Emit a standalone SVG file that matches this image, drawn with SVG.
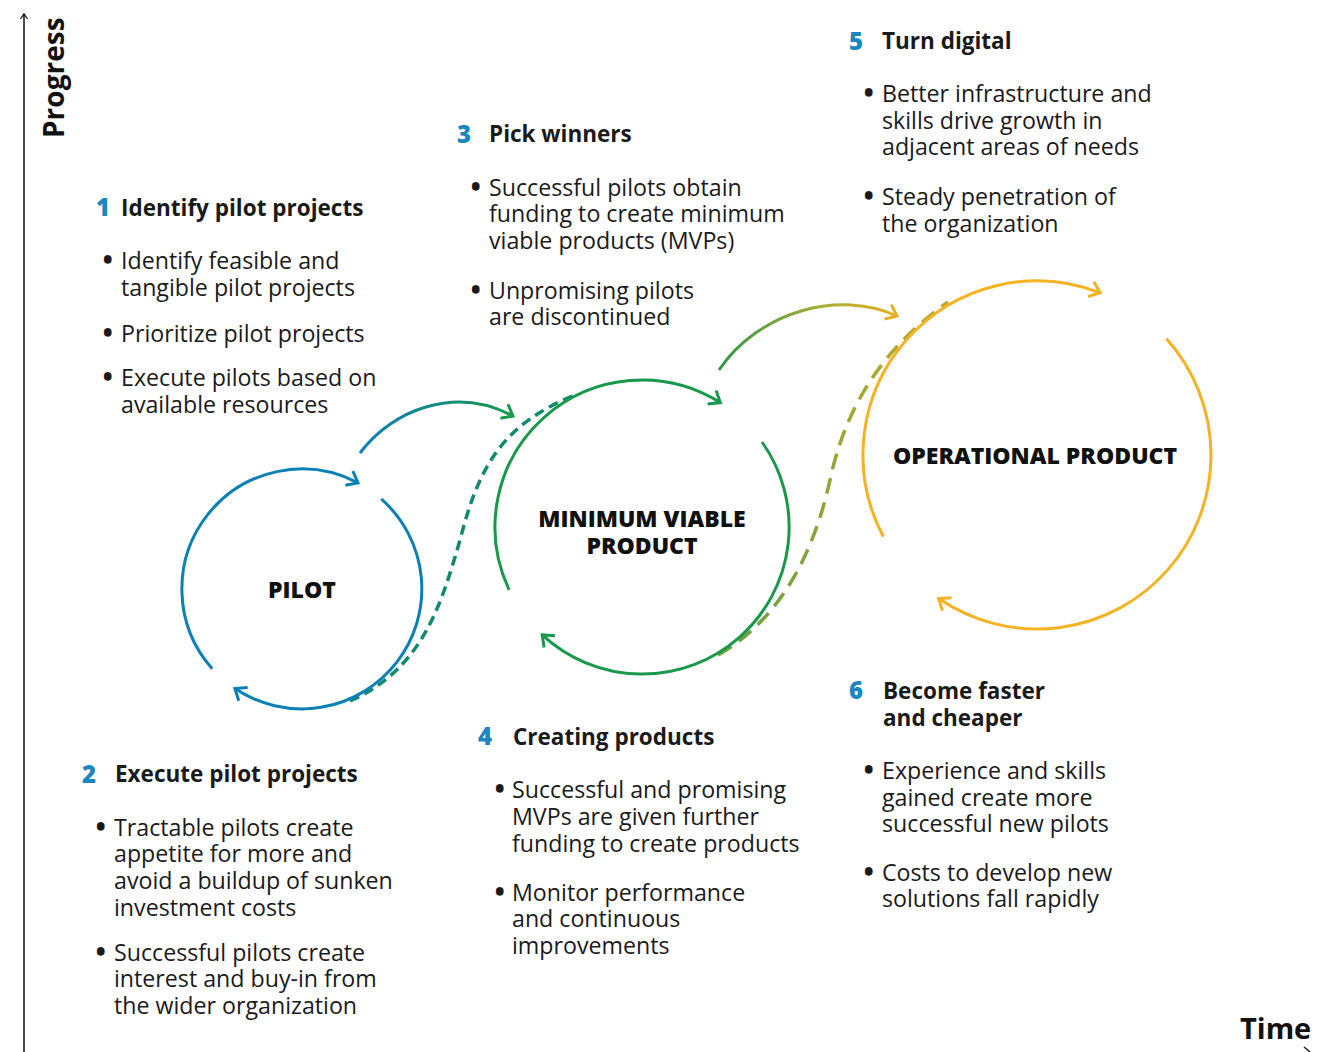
<svg xmlns="http://www.w3.org/2000/svg" width="1335" height="1052" viewBox="0 0 1335 1052">
  <style>
    .txt { font-family: "Open Sans", "Noto Sans", "Liberation Sans", sans-serif; font-size: 23.2px; font-weight: 500; fill: #1a1a1a; }
    .head { font-size: 22.5px; font-weight: 700; }
    .dot { font-family: "Open Sans", "Noto Sans", "Liberation Sans", sans-serif; font-size: 24px; font-weight: 800; fill: #1a1a1a; }
    .num { font-family: "Open Sans", "Noto Sans", "Liberation Sans", sans-serif; font-size: 24px; font-weight: 800; fill: #1b87c0; }
    .label { font-family: "Open Sans", "Noto Sans", "Liberation Sans", sans-serif; font-size: 23px; font-weight: 800; fill: #111; text-anchor: middle; }
    .axis { font-family: "Open Sans", "Noto Sans", "Liberation Sans", sans-serif; font-weight: 700; fill: #111; }
    .ring { fill: none; stroke-width: 3; stroke-linecap: butt; }
    .blue { stroke: #0b80b6; }
    .green { stroke: #18994a; }
    .gold { stroke: #f6b222; }
  </style>
  <defs>
    <marker id="ah-blue" markerUnits="userSpaceOnUse" markerWidth="30" markerHeight="30" viewBox="-15 -15 30 30" refX="0" refY="0" orient="auto" overflow="visible">
      <path d="M-10,-8 L0,0 L-10,8" fill="none" stroke="#0b80b6" stroke-width="3"/>
    </marker>
    <marker id="ah-green" markerUnits="userSpaceOnUse" markerWidth="30" markerHeight="30" viewBox="-15 -15 30 30" refX="0" refY="0" orient="auto" overflow="visible">
      <path d="M-10,-8 L0,0 L-10,8" fill="none" stroke="#18994a" stroke-width="3"/>
    </marker>
    <marker id="ah-gold" markerUnits="userSpaceOnUse" markerWidth="30" markerHeight="30" viewBox="-15 -15 30 30" refX="0" refY="0" orient="auto" overflow="visible">
      <path d="M-10,-8 L0,0 L-10,8" fill="none" stroke="#f6b222" stroke-width="3"/>
    </marker>
    <marker id="ah-olive" markerUnits="userSpaceOnUse" markerWidth="30" markerHeight="30" viewBox="-15 -15 30 30" refX="0" refY="0" orient="auto" overflow="visible">
      <path d="M-10,-8 L0,0 L-10,8" fill="none" stroke="#e3b022" stroke-width="3"/>
    </marker>
    <marker id="ah-axis" markerUnits="userSpaceOnUse" markerWidth="20" markerHeight="20" viewBox="-10 -10 20 20" refX="0" refY="0" orient="auto" overflow="visible">
      <path d="M-5,-3.5 L0,0 L-5,3.5" fill="none" stroke="#111" stroke-width="1.3"/>
    </marker>
    <linearGradient id="g-pilot-mvp" gradientUnits="userSpaceOnUse" x1="360" y1="0" x2="513" y2="0">
      <stop offset="0" stop-color="#0b80b6"/>
      <stop offset="1" stop-color="#18994a"/>
    </linearGradient>
    <linearGradient id="g-mvp-op" gradientUnits="userSpaceOnUse" x1="719" y1="0" x2="897" y2="0">
      <stop offset="0" stop-color="#2c9a46"/>
      <stop offset="0.5" stop-color="#9aac35"/>
      <stop offset="1" stop-color="#e8b022"/>
    </linearGradient>
    <linearGradient id="g-olive" gradientUnits="userSpaceOnUse" x1="0" y1="655" x2="0" y2="300">
      <stop offset="0" stop-color="#6ea13c"/>
      <stop offset="1" stop-color="#b9a92e"/>
    </linearGradient>
  </defs>

  <!-- Axes -->
  <g id="axes">
    <line x1="24" y1="1052" x2="24" y2="14" stroke="#111" stroke-width="1.5" marker-end="url(#ah-axis)"/>
    <text class="axis" font-size="28" transform="translate(64,138) rotate(-90)">Progress</text>
    <text class="axis" font-size="29" x="1240" y="1039">Time</text>
    <path d="M1304,1047 L1310,1052" fill="none" stroke="#111" stroke-width="1.3"/>
  </g>

  <!-- Connectors between stages -->
  <g id="connectors">
    <path d="M350,701 C420,670 440,610 460,540 C478,470 500,425 575,395" fill="none" stroke="#0f8a6c" stroke-width="3.5" stroke-dasharray="10 6"/>
    <path d="M718,655 C770,625 810,570 830,480 C845,410 880,350 948,302" fill="none" stroke="url(#g-olive)" stroke-width="3.5" stroke-dasharray="16 9"/>
    <path d="M360,453 C392,410 455,385 513,416" fill="none" stroke="url(#g-pilot-mvp)" stroke-width="3" marker-end="url(#ah-green)"/>
    <path d="M719,370 C760,310 840,290 897,316" fill="none" stroke="url(#g-mvp-op)" stroke-width="3" marker-end="url(#ah-olive)"/>
  </g>

  <!-- Stage cycles -->
  <g id="pilot">
    <path class="ring blue" d="M212.2,668.7 A120,120 0 0 1 358,482.9" marker-end="url(#ah-blue)"/>
    <path class="ring blue" d="M381.2,498.9 A120,120 0 0 1 234.9,688.5" marker-end="url(#ah-blue)"/>
    <text class="label" x="302" y="598">PILOT</text>
  </g>

  <g id="mvp">
    <path class="ring green" d="M509.1,589.8 A147,147 0 0 1 720.3,402.6" marker-end="url(#ah-green)"/>
    <path class="ring green" d="M762,442 A147,147 0 0 1 542.2,634.9" marker-end="url(#ah-green)"/>
    <text class="label" x="642" y="527">MINIMUM VIABLE</text>
    <text class="label" x="642" y="554">PRODUCT</text>
  </g>

  <g id="operational">
    <path class="ring gold" d="M883.4,536.7 A174,174 0 0 1 1100.2,292.8" marker-end="url(#ah-gold)"/>
    <path class="ring gold" d="M1166.3,338.6 A174,174 0 0 1 938.7,598.6" marker-end="url(#ah-gold)"/>
    <text class="label" x="1035" y="464">OPERATIONAL PRODUCT</text>
  </g>

  <!-- Step descriptions -->
  <g id="step1">
    <text class="num" x="96" y="216">1</text>
    <text class="txt head" x="121" y="216">Identify pilot projects</text>
    <text class="dot" x="103" y="269">•</text>
    <text class="txt" x="121" y="269">Identify feasible and</text>
    <text class="txt" x="121" y="296">tangible pilot projects</text>
    <text class="dot" x="103" y="342">•</text>
    <text class="txt" x="121" y="342">Prioritize pilot projects</text>
    <text class="dot" x="103" y="386">•</text>
    <text class="txt" x="121" y="386">Execute pilots based on</text>
    <text class="txt" x="121" y="413">available resources</text>
  </g>

  <g id="step2">
    <text class="num" x="82" y="783">2</text>
    <text class="txt head" x="115" y="782">Execute pilot projects</text>
    <text class="dot" x="96" y="836">•</text>
    <text class="txt" x="114" y="836">Tractable pilots create</text>
    <text class="txt" x="114" y="862">appetite for more and</text>
    <text class="txt" x="114" y="889">avoid a buildup of sunken</text>
    <text class="txt" x="114" y="916">investment costs</text>
    <text class="dot" x="96" y="961">•</text>
    <text class="txt" x="114" y="961">Successful pilots create</text>
    <text class="txt" x="114" y="987">interest and buy-in from</text>
    <text class="txt" x="114" y="1014">the wider organization</text>
  </g>

  <g id="step3">
    <text class="num" x="457" y="143">3</text>
    <text class="txt head" x="489" y="142">Pick winners</text>
    <text class="dot" x="471" y="196">•</text>
    <text class="txt" x="489" y="196">Successful pilots obtain</text>
    <text class="txt" x="489" y="222">funding to create minimum</text>
    <text class="txt" x="489" y="249">viable products (MVPs)</text>
    <text class="dot" x="471" y="299">•</text>
    <text class="txt" x="489" y="299">Unpromising pilots</text>
    <text class="txt" x="489" y="325">are discontinued</text>
  </g>

  <g id="step4">
    <text class="num" x="478" y="745">4</text>
    <text class="txt head" x="513" y="745">Creating products</text>
    <text class="dot" x="495" y="798">•</text>
    <text class="txt" x="512" y="798">Successful and promising</text>
    <text class="txt" x="512" y="825">MVPs are given further</text>
    <text class="txt" x="512" y="852">funding to create products</text>
    <text class="dot" x="495" y="901">•</text>
    <text class="txt" x="512" y="901">Monitor performance</text>
    <text class="txt" x="512" y="927">and continuous</text>
    <text class="txt" x="512" y="954">improvements</text>
  </g>

  <g id="step5">
    <text class="num" x="849" y="50">5</text>
    <text class="txt head" x="882" y="49">Turn digital</text>
    <text class="dot" x="864" y="102">•</text>
    <text class="txt" x="882" y="102">Better infrastructure and</text>
    <text class="txt" x="882" y="129">skills drive growth in</text>
    <text class="txt" x="882" y="155">adjacent areas of needs</text>
    <text class="dot" x="864" y="205">•</text>
    <text class="txt" x="882" y="205">Steady penetration of</text>
    <text class="txt" x="882" y="232">the organization</text>
  </g>

  <g id="step6">
    <text class="num" x="849" y="699">6</text>
    <text class="txt head" x="883" y="699">Become faster</text>
    <text class="txt head" x="883" y="726">and cheaper</text>
    <text class="dot" x="864" y="779">•</text>
    <text class="txt" x="882" y="779">Experience and skills</text>
    <text class="txt" x="882" y="806">gained create more</text>
    <text class="txt" x="882" y="832">successful new pilots</text>
    <text class="dot" x="864" y="881">•</text>
    <text class="txt" x="882" y="881">Costs to develop new</text>
    <text class="txt" x="882" y="907">solutions fall rapidly</text>
  </g>
</svg>
